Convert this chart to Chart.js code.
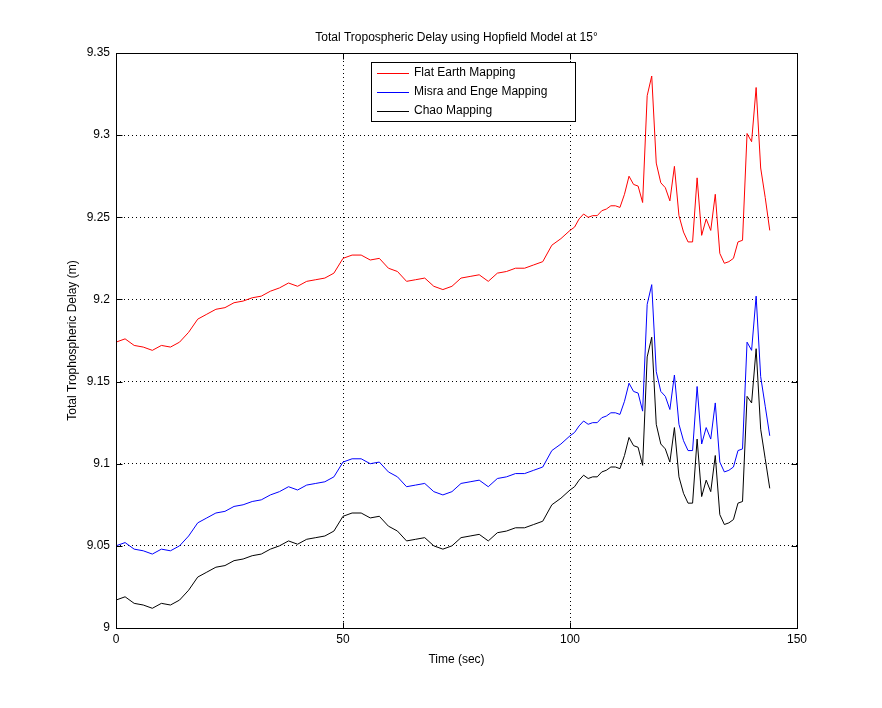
<!DOCTYPE html>
<html><head><meta charset="utf-8">
<script src="https://cdn.jsdelivr.net/npm/chart.js@4"></script>
<style>html,body{margin:0;padding:0;background:#fff}canvas{display:block}</style>
</head><body>
<canvas id="c" width="882" height="708"></canvas>
<script>
const xs = [0,2,4,6,8,10,12,14,16,18,20,22,24,26,28,30,32,34,36,38,40,42,44,46,48,50,52,54,56,58,60,62,64,66,68,70,72,74,76,78,80,82,84,86,88,90,92,94,96,98,100,
101,102,103,104,105,106,107,108,109,110,111,112,113,114,115,116,117,118,119,120,121,122,123,124,125,126,127,128,129,130,131,132,133,134,135,136,137,138,139,140,141,142,143,144];
const flatEarth = [9.174,9.176,9.172,9.171,9.169,9.172,9.171,9.174,9.180,9.188,9.191,9.194,9.195,9.198,9.199,9.201,9.202,9.205,9.207,9.210,9.208,9.211,9.212,9.213,9.216,9.225,9.227,9.227,9.224,9.225,9.219,9.217,9.211,9.212,9.213,9.208,9.206,9.208,9.213,9.214,9.215,9.211,9.216,9.217,9.219,9.219,9.221,9.223,9.233,9.237,9.242,
9.244,9.249,9.252,9.250,9.251,9.251,9.254,9.255,9.257,9.257,9.256,9.264,9.275,9.270,9.269,9.259,9.324,9.336,9.283,9.271,9.268,9.260,9.281,9.251,9.241,9.235,9.235,9.274,9.239,9.249,9.242,9.264,9.228,9.222,9.223,9.225,9.235,9.236,9.301,9.296,9.329,9.280,9.262,9.242];
const misraEnge = [9.050,9.052,9.048,9.047,9.045,9.048,9.047,9.050,9.056,9.064,9.067,9.070,9.071,9.074,9.075,9.077,9.078,9.081,9.083,9.086,9.084,9.087,9.088,9.089,9.092,9.101,9.103,9.103,9.100,9.101,9.095,9.092,9.086,9.087,9.088,9.083,9.081,9.083,9.088,9.089,9.090,9.086,9.091,9.092,9.094,9.094,9.096,9.098,9.108,9.112,9.117,
9.119,9.123,9.126,9.124,9.125,9.125,9.128,9.129,9.131,9.131,9.130,9.138,9.149,9.144,9.143,9.132,9.197,9.209,9.156,9.144,9.141,9.133,9.154,9.124,9.114,9.108,9.108,9.147,9.112,9.122,9.115,9.137,9.101,9.095,9.096,9.098,9.108,9.109,9.174,9.169,9.202,9.153,9.135,9.117];
const chao = [9.017,9.019,9.015,9.014,9.012,9.015,9.014,9.017,9.023,9.031,9.034,9.037,9.038,9.041,9.042,9.044,9.045,9.048,9.050,9.053,9.051,9.054,9.055,9.056,9.059,9.068,9.070,9.070,9.067,9.068,9.062,9.059,9.053,9.054,9.055,9.050,9.048,9.050,9.055,9.056,9.057,9.053,9.058,9.059,9.061,9.061,9.063,9.065,9.075,9.079,9.084,
9.086,9.090,9.093,9.091,9.092,9.092,9.095,9.096,9.098,9.098,9.097,9.105,9.116,9.111,9.110,9.099,9.165,9.177,9.124,9.112,9.109,9.101,9.122,9.092,9.082,9.076,9.076,9.115,9.080,9.090,9.083,9.105,9.069,9.063,9.064,9.066,9.076,9.077,9.141,9.137,9.170,9.121,9.103,9.085];
const seriesNames = ['Flat Earth Mapping','Misra and Enge Mapping','Chao Mapping'];
const seriesColors = ['#ff0000','#0000ff','#000000'];
const titleText = 'Total Tropospheric Delay using Hopfield Model at 15°';
const xTitle = 'Time (sec)';
const yTitle = 'Total Trophospheric Delay (m)';

const toPts = ys => ys.map((y,i)=>({x:xs[i],y}));
const FONT = '"Liberation Sans", Arial, sans-serif';

const deco = {
  id:'deco',
  afterDraw(ch){
    const c=ch.ctx, a=ch.chartArea;
    c.save();
    c.strokeStyle='#000'; c.lineWidth=1; c.setLineDash([]);
    const L=Math.round(a.left)+0.5,T=Math.round(a.top)+0.5,R=Math.round(a.right)+0.5,B=Math.round(a.bottom)+0.5;
    c.strokeRect(L,T,R-L,B-T);
    // inward ticks
    c.beginPath();
    ch.scales.x.ticks.forEach(t=>{const px=Math.round(ch.scales.x.getPixelForValue(t.value))+0.5;c.moveTo(px,B);c.lineTo(px,B-6);c.moveTo(px,T);c.lineTo(px,T+6);});
    ch.scales.y.ticks.forEach(t=>{const py=Math.round(ch.scales.y.getPixelForValue(t.value))+0.5;c.moveTo(L,py);c.lineTo(L+6,py);c.moveTo(R,py);c.lineTo(R-6,py);});
    c.stroke();
    c.fillStyle='#000';
    c.font='12px '+FONT; c.textAlign='center'; c.textBaseline='middle';
    c.fillText(titleText,(a.left+a.right)/2,38);
    c.fillText(xTitle,(a.left+a.right)/2,660);
    c.translate(73,(a.top+a.bottom)/2); c.rotate(-Math.PI/2);
    c.fillText(yTitle,0,0);
    c.restore();
    // legend
    c.save();
    const lx=371, ly=62, lw=204, lh=59;
    c.fillStyle='#fff'; c.fillRect(lx,ly,lw,lh);
    c.strokeStyle='#000'; c.lineWidth=1; c.strokeRect(lx+0.5,ly+0.5,lw,lh);
    c.font='12px '+FONT; c.textAlign='left'; c.textBaseline='middle';
    seriesNames.forEach((n,i)=>{
      const yy=ly+11+i*19;
      c.strokeStyle=seriesColors[i]; c.beginPath(); c.moveTo(lx+6,yy+0.5); c.lineTo(lx+38,yy+0.5); c.stroke();
      c.fillStyle='#000'; c.fillText(n,lx+43,yy);
    });
    c.restore();
  }
};

new Chart(document.getElementById('c'),{
  type:'line',
  data:{datasets:[
    {label:seriesNames[0],data:toPts(flatEarth),borderColor:seriesColors[0],borderWidth:1,pointRadius:0,tension:0},
    {label:seriesNames[1],data:toPts(misraEnge),borderColor:seriesColors[1],borderWidth:1,pointRadius:0,tension:0},
    {label:seriesNames[2],data:toPts(chao),borderColor:seriesColors[2],borderWidth:1,pointRadius:0,tension:0}
  ]},
  options:{
    responsive:false,animation:false,
    layout:{padding:{top:53,right:85,left:0,bottom:0}},
    plugins:{legend:{display:false},title:{display:false},tooltip:{enabled:false}},
    scales:{
      x:{type:'linear',min:0,max:150,
        afterFit:s=>{s.height=80;},
        ticks:{stepSize:50,color:'#000',font:{family:FONT,size:12},padding:4,maxRotation:0},
        grid:{color:'#000',lineWidth:1,drawTicks:false},
        border:{display:false,dash:[1,3]}
      },
      y:{min:9,max:9.35,
        afterFit:s=>{s.width=116;},
        ticks:{stepSize:0.05,color:'#000',font:{family:FONT,size:12},padding:6,callback:v=>String(Math.round(v*100)/100)},
        grid:{color:'#000',lineWidth:1,drawTicks:false},
        border:{display:false,dash:[1,3]}
      }
    }
  },
  plugins:[deco]
});
</script>
</body></html>
